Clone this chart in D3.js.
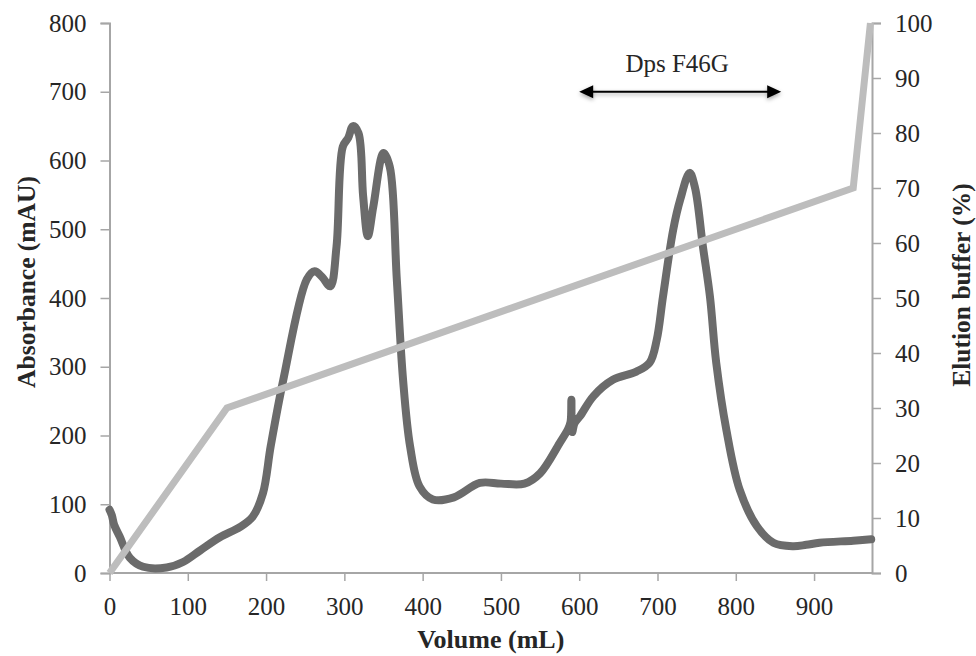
<!DOCTYPE html>
<html>
<head>
<meta charset="utf-8">
<script src="https://cdn.jsdelivr.net/npm/d3@7"></script>
<style>
  body { margin: 0; background: #fff; }
  svg text { font-family: "Liberation Serif", "DejaVu Serif", serif; fill: #262626; }
</style>
</head>
<body>
<svg id="chart" width="976" height="656"></svg>
<script>
// absorbance trace (mAU) vs volume (mL)
var volume =     [0, 3, 6, 13, 26, 43, 73, 94, 116, 141, 167, 183, 196, 206, 222, 252, 262, 272, 282, 290, 298, 305, 311, 318, 324, 330, 337, 350, 358, 367, 375, 384, 396, 413, 440, 473, 500, 530, 550, 575, 586, 589, 590, 591, 594, 601, 618, 643, 673, 690, 699, 707, 720, 729, 741, 748, 758, 767, 775, 788, 805, 827, 848, 873, 890, 907, 950, 973];
var absorbance = [92, 84, 70, 53, 22, 9, 8, 16, 33, 52, 67, 82, 116, 185, 281, 427, 439, 430, 417, 475, 620, 633, 650, 640, 548, 490, 533, 611, 591, 427, 281, 184, 126, 107, 110, 131, 130, 130, 145, 189, 210, 220, 252, 205, 218, 228, 257, 281, 293, 306, 339, 402, 499, 543, 582, 560, 475, 402, 306, 208, 121, 68, 44, 39, 41, 44, 47, 49];

// elution buffer gradient (%)
var gradVolume =  [0, 150, 950, 972];
var gradPercent = [0, 30, 70, 100];

var xTicks = [0, 100, 200, 300, 400, 500, 600, 700, 800, 900];
var yTicks = [0, 100, 200, 300, 400, 500, 600, 700, 800];
var y2Ticks = [0, 10, 20, 30, 40, 50, 60, 70, 80, 90, 100];

var arrowRange = [600, 858];
var arrowLevel = 700;

var svg = d3.select("#chart");

var x = d3.scaleLinear().domain([0, 974]).range([109.5, 872]);
var y = d3.scaleLinear().domain([0, 800]).range([573, 23]);
var y2 = d3.scaleLinear().domain([0, 100]).range([573, 23]);

var axisColor = "#a6a6a6";

// left axis
var gl = svg.append("g").attr("transform", "translate(" + x(0) + ",0)")
    .call(d3.axisLeft(y).tickValues(yTicks).tickSize(9).tickPadding(14));
// right axis
var gr = svg.append("g").attr("transform", "translate(" + x(974) + ",0)")
    .call(d3.axisRight(y2).tickValues(y2Ticks).tickSize(9).tickPadding(14));
// bottom axis
var gb = svg.append("g").attr("transform", "translate(0," + y(0) + ")")
    .call(d3.axisBottom(x).tickValues(xTicks).tickSize(8).tickPadding(16));

[gl, gr, gb].forEach(function(g) {
  g.selectAll(".domain").attr("stroke", axisColor).attr("stroke-width", 2);
  g.selectAll(".tick line").attr("stroke", axisColor).attr("stroke-width", 1.5);
  g.selectAll(".tick text")
    .style("font-family", "'Liberation Serif', serif")
    .style("font-size", "25px")
    .attr("fill", "#262626");
});
gb.select(".domain").attr("d", "M" + x(0) + ",0H" + x(974));

// absorbance line
var line = d3.line()
    .x(function(d) { return x(d[0]); })
    .y(function(d) { return y(d[1]); })
    .curve(d3.curveCatmullRom.alpha(0.5));

svg.append("path")
    .datum(d3.zip(volume, absorbance))
    .attr("d", line)
    .attr("fill", "none")
    .attr("stroke", "#6b6b6b")
    .attr("stroke-width", 8)
    .attr("stroke-linejoin", "round")
    .attr("stroke-linecap", "round");

// gradient line
var line2 = d3.line()
    .x(function(d) { return x(d[0]); })
    .y(function(d) { return y2(d[1]); });

svg.append("path")
    .datum(d3.zip(gradVolume, gradPercent))
    .attr("d", line2)
    .attr("fill", "none")
    .attr("stroke", "#bdbdbd")
    .attr("stroke-width", 7)
    .attr("stroke-linejoin", "miter");

// annotation arrow
var defs = svg.append("defs");
var f = defs.append("filter").attr("id", "shadow").attr("x", "-10%").attr("y", "-100%")
    .attr("width", "120%").attr("height", "300%");
f.append("feDropShadow").attr("dx", 0).attr("dy", 2).attr("stdDeviation", 2)
    .attr("flood-color", "#000").attr("flood-opacity", 0.35);

var ax1 = x(arrowRange[0]), ax2 = x(arrowRange[1]), ay = y(arrowLevel);
var ga = svg.append("g").attr("filter", "url(#shadow)");
ga.append("line")
    .attr("x1", ax1 + 8).attr("x2", ax2 - 8).attr("y1", ay).attr("y2", ay)
    .attr("stroke", "#000").attr("stroke-width", 2);
ga.append("path")
    .attr("d", "M" + ax1 + "," + ay + "l14,-6.5v13z")
    .attr("fill", "#000");
ga.append("path")
    .attr("d", "M" + ax2 + "," + ay + "l-14,-6.5v13z")
    .attr("fill", "#000");

svg.append("text")
    .attr("x", (ax1 + ax2) / 2 - 3)
    .attr("y", 72)
    .attr("text-anchor", "middle")
    .style("font-size", "25px")
    .text("Dps F46G");

// axis titles
svg.append("text")
    .attr("x", (x(0) + x(974)) / 2)
    .attr("y", 648)
    .attr("text-anchor", "middle")
    .style("font-size", "26px")
    .style("font-weight", "bold")
    .text("Volume (mL)");

svg.append("text")
    .attr("transform", "translate(35,282) rotate(-90)")
    .attr("text-anchor", "middle")
    .style("font-size", "25.5px")
    .style("font-weight", "bold")
    .text("Absorbance (mAU)");

svg.append("text")
    .attr("transform", "translate(970,285) rotate(-90)")
    .attr("text-anchor", "middle")
    .style("font-size", "25.5px")
    .style("font-weight", "bold")
    .text("Elution buffer (%)");
</script>
</body>
</html>
